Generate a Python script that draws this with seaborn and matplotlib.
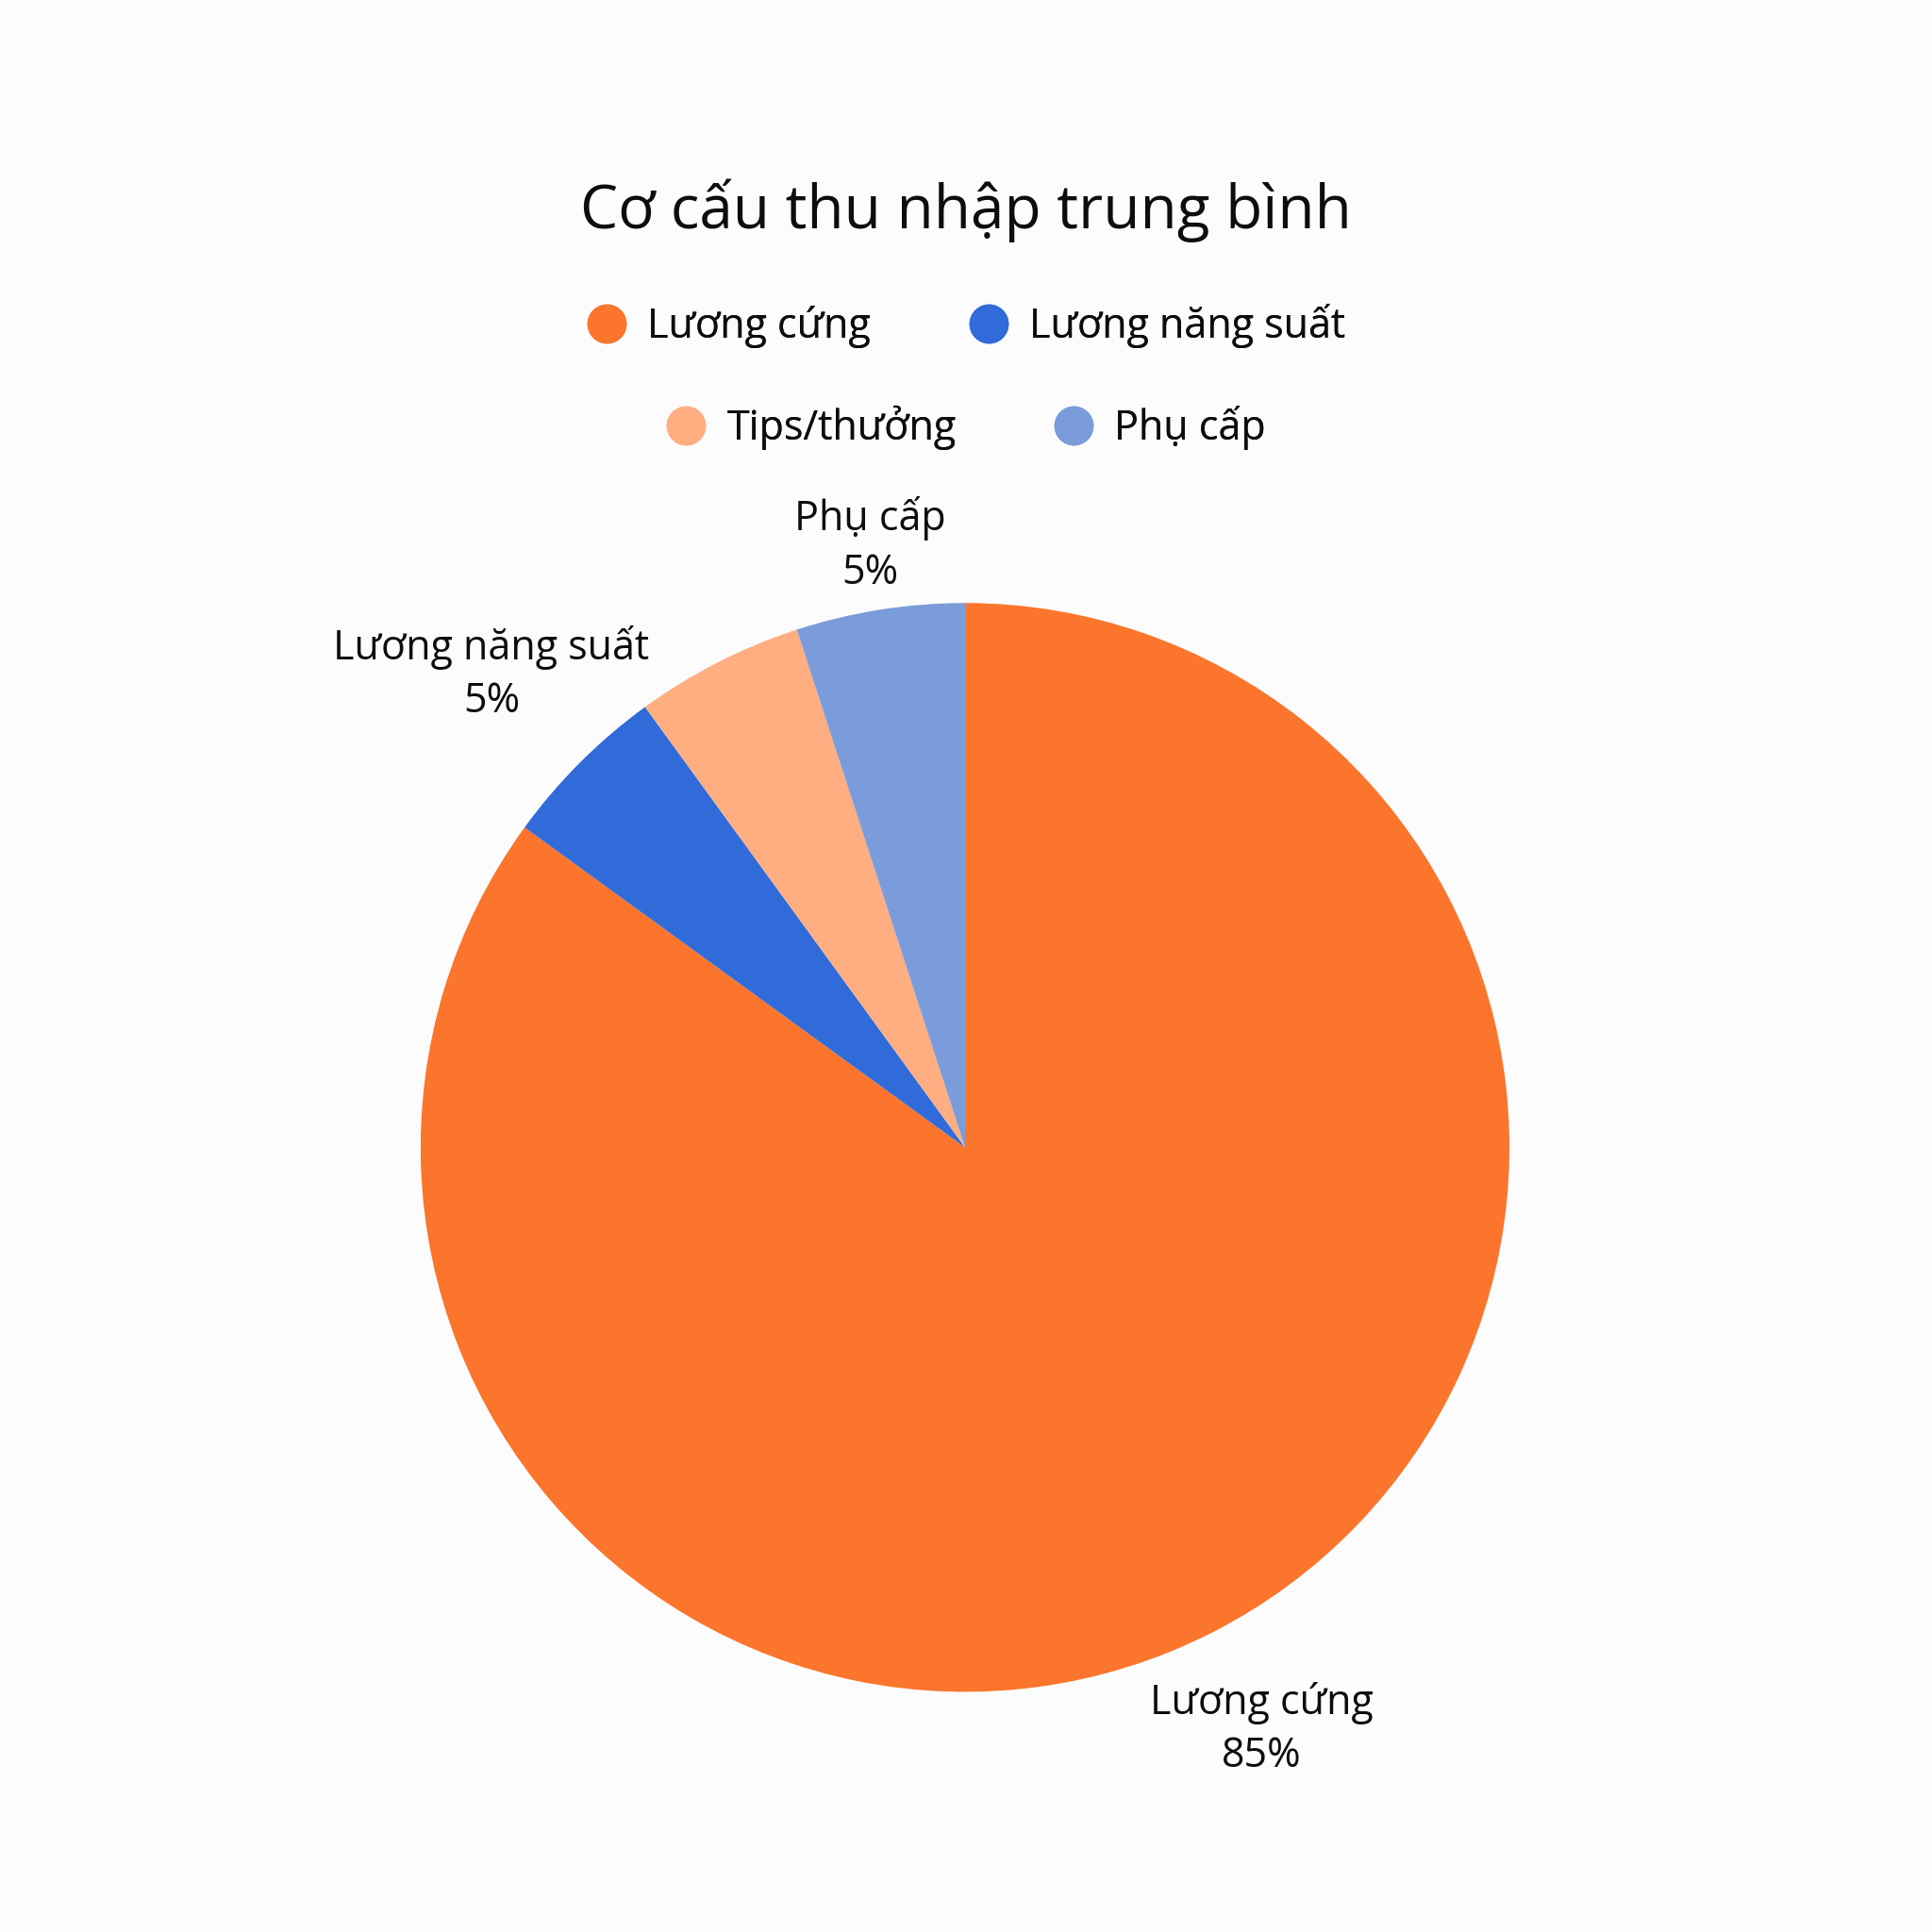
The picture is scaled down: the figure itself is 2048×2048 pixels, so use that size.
import matplotlib
matplotlib.use('Agg')
import matplotlib.pyplot as plt
from matplotlib.lines import Line2D
import numpy as np
import seaborn as sns

# Data
categories = ['Lương cứng', 'Lương năng suất', 'Tips/thưởng', 'Phụ cấp']
values = [85, 5, 5, 5]
slice_labels = ['Lương cứng\n85%', 'Lương năng suất\n5%', '', 'Phụ cấp\n5%']
colors = ['#FB752C', '#306BD9', '#FFAE82', '#7B9CDA']

sns.set_theme(style='white')
plt.rcParams['font.family'] = ['Open Sans', 'DejaVu Sans']
bg = '#FCFCFC'
palette = sns.color_palette(colors)

fig = plt.figure(figsize=(20.48, 20.48), dpi=100, facecolor=bg)
ax = fig.add_axes([0.105, 0.0116, 0.789, 0.789])
ax.set_facecolor(bg)

wedges, texts = ax.pie(values, colors=palette, startangle=90, counterclock=False,
                       labels=slice_labels, labeldistance=1.18,
                       wedgeprops=dict(linewidth=0),
                       textprops=dict(fontsize=31, color='#0d0d0d', ha='center',
                                      va='center', linespacing=1.35))
# per-label distance from the centre
label_dist = [1.2, 1.23, 1.2, 1.12]
for w, t, d in zip(wedges, texts, label_dist):
    ang = np.deg2rad((w.theta1 + w.theta2) / 2)
    t.set_position((d * np.cos(ang), d * np.sin(ang)))
    t.set_ha('center')

ax.set_xlim(-1.4, 1.4)
ax.set_ylim(-1.4, 1.4)
ax.set_aspect('equal')
ax.axis('off')

fig.text(0.5, 0.891, 'Cơ cấu thu nhập trung bình', ha='center', va='center',
         fontsize=46, color='#0d0d0d')

# legend, two rows each centred
rows = [[0, 1], [2, 3]]
row_y = [0.8315, 0.7785]
for idx, y in zip(rows, row_y):
    handles = [Line2D([], [], marker='o', linestyle='', markersize=30,
                      markerfacecolor=palette[i], markeredgewidth=0) for i in idx]
    leg = fig.legend(handles, [categories[i] for i in idx], loc='center',
                     bbox_to_anchor=(0.5, y), ncol=2, frameon=False,
                     fontsize=31, handlelength=1.0, handletextpad=0.5,
                     columnspacing=2.4, labelcolor='#0d0d0d')
    fig.add_artist(leg)

fig.savefig('out.png', dpi=100, facecolor=bg)
